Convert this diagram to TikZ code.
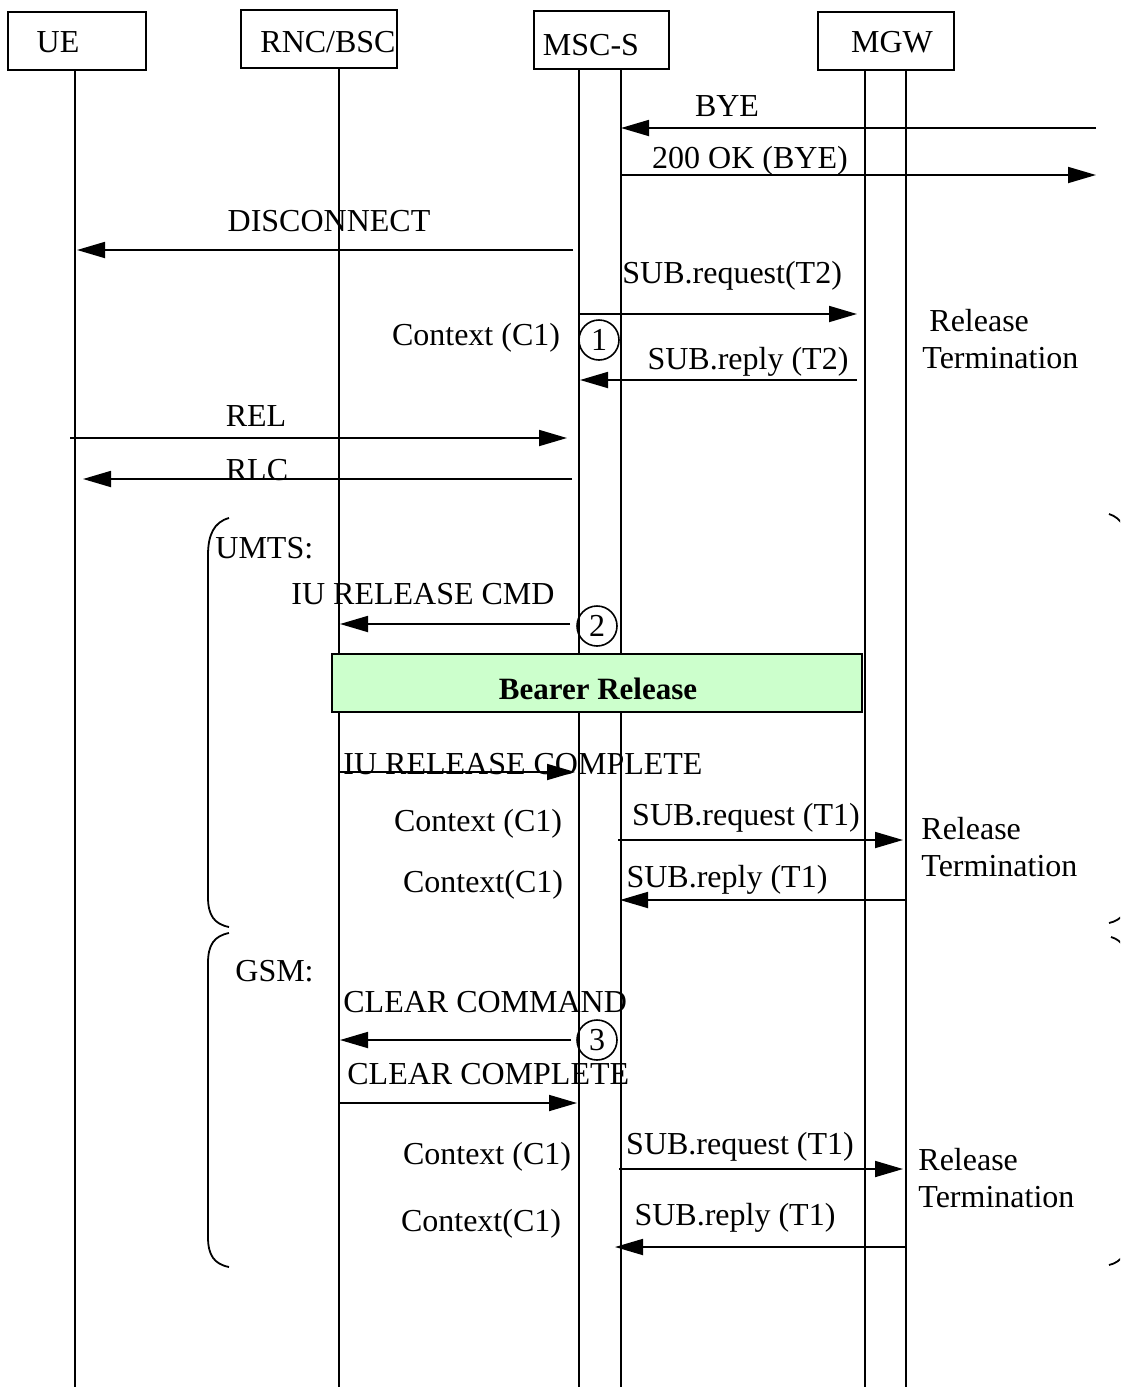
\documentclass[tikz,border=0pt]{standalone}
\usepackage{fontspec}
\setmainfont{Liberation Serif}
\usetikzlibrary{arrows.meta}
\newcommand\mymsg[4]{\coordinate (#1s) at (#2,#4); \coordinate (#1e) at (#3,#4); \draw[msg] (#1s) -- (#1e);}
\begin{document}
\begin{tikzpicture}[x=0.5pt,y=-0.5pt,
  font=\fontsize{16}{19}\selectfont,
  actor/.style={draw, line width=0.8pt, inner sep=0pt, minimum height=29pt},
  life/.style={line width=0.8pt},
  msg/.style={line width=0.9pt, -{Triangle[length=14pt,width=8pt]}},
  lbl/.style={inner sep=0pt, anchor=base},
  lbll/.style={inner sep=0pt, anchor=base west},
  num/.style={draw, circle, line width=0.8pt, minimum size=20pt, inner sep=0pt},
  brace/.style={line width=0.9pt}]
\useasboundingbox (0,0) rectangle (1120,1387);
\clip (0,0) rectangle (1120,1387);
\fill[white] (0,0) rectangle (1120,1387);

% actor boxes
\node[actor, minimum width=69pt] (ue) at (77,41) {};
\node[actor, minimum width=78pt] (rnc) at (319,39) {};
\node[actor, minimum width=67.5pt] (msc) at (601.5,40) {};
\node[actor, minimum width=68pt] (mgw) at (886,41) {};
\node[lbl] (tue) at (58,52) {UE};
\node[lbl] (trnc) at (328,52) {RNC/BSC};
\node[lbl] (tmsc) at (591,55) {MSC-S};
\node[lbl] (tmgw) at (892,52) {MGW};

% lifelines
\coordinate (ueT) at (75,70);   \coordinate (ueB) at (75,1387);
\coordinate (rnT) at (339,68);  \coordinate (rnB) at (339,1387);
\coordinate (m1T) at (579,68);  \coordinate (m1B) at (579,1387);
\coordinate (m2T) at (621,68);  \coordinate (m2B) at (621,1387);
\coordinate (g1T) at (865,70);  \coordinate (g1B) at (865,1387);
\coordinate (g2T) at (906,70);  \coordinate (g2B) at (906,1387);
\foreach \a in {ue,rn,m1,m2,g1,g2} {\draw[life] (\a T) -- (\a B);}

% messages
\mymsg{bye}{1096}{621}{128}
\node[lbl] (tbye) at (727,116) {BYE};
\mymsg{ok}{621}{1096}{175}
\node[lbl] (tok) at (750,168) {200 OK (BYE)};
\mymsg{disc}{573}{77}{250}
\node[lbl] (tdisc) at (329,231) {DISCONNECT};
\mymsg{subq2}{579}{857}{314}
\node[lbll] (tsubq2) at (622,283) {SUB.request(T2)};
\node[lbl] (tctx1) at (476,345) {Context (C1)};
\node[num] (c1) at (599,340) {1};
\mymsg{subr2}{857}{580}{380}
\node[lbl] (tsubr2) at (748,369) {SUB.reply (T2)};
\node[lbll] (trel1) at (929,331) {Release};
\node[lbll] (tterm1) at (922,368) {Termination};

\mymsg{rel}{70}{567}{438}
\node[lbl] (trel) at (256,426) {REL};
\mymsg{rlc}{572}{83}{479}
\node[lbl] (trlc) at (257,480) {RLC};

% UMTS part
\node[lbll] (tumts) at (215,558) {UMTS:};
\mymsg{iucmd}{570}{340}{624}
\node[lbl] (tiucmd) at (423,604) {IU RELEASE CMD};
\node[num] (c2) at (597,626) {2};
\node[draw, line width=0.8pt, fill={rgb,255:red,204;green,255;blue,204}, minimum width=265pt, minimum height=29pt, inner sep=0pt] (bearer) at (597,683) {};
\node[lbl, font=\fontsize{15.5}{18}\selectfont\bfseries] (tbearer) at (598,699) {Bearer Release};
\mymsg{iucomp}{340}{575}{772}
\node[lbll] (tiucomp) at (343,774) {IU RELEASE COMPLETE};
\node[lbl] (tctx2) at (478,831) {Context (C1)};
\mymsg{subq1}{618}{903}{840}
\node[lbl] (tsubq1) at (746,825) {SUB.request (T1)};
\node[lbll] (trel2) at (921,839) {Release};
\node[lbll] (tterm2) at (921,876) {Termination};
\node[lbl] (tctx3) at (483,892) {Context(C1)};
\mymsg{subr1}{906}{620}{900}
\node[lbl] (tsubr1) at (727,887) {SUB.reply (T1)};

% GSM part
\node[lbll] (tgsm) at (235,981) {GSM:};
\node[lbll] (tclcmd) at (343,1012) {CLEAR COMMAND};
\mymsg{clcmd}{571}{340}{1040}
\node[num] (c3) at (597,1040) {3};
\node[lbll] (tclcomp) at (347,1084) {CLEAR COMPLETE};
\mymsg{clcomp}{340}{577}{1103}
\node[lbl] (tctx4) at (487,1164) {Context (C1)};
\mymsg{subq3}{619}{903}{1169}
\node[lbl] (tsubq3) at (740,1154) {SUB.request (T1)};
\node[lbll] (trel3) at (918,1170) {Release};
\node[lbll] (tterm3) at (918,1207) {Termination};
\node[lbl] (tctx5) at (481,1231) {Context(C1)};
\mymsg{subr3}{906}{615}{1247}
\node[lbl] (tsubr3) at (735,1225) {SUB.reply (T1)};

% left brackets
\draw[brace] (229,518) .. controls (214,522) and (208,535) .. (208,555) -- (208,897) .. controls (208,915) and (214,924) .. (229,927);
\draw[brace] (229,933) .. controls (214,936) and (208,945) .. (208,963) -- (208,1237) .. controls (208,1255) and (214,1264) .. (229,1267);
% right brackets (cut by the edge)
\draw[brace] (1109,514) .. controls (1122,518) and (1128,530) .. (1128,550) -- (1128,895) .. controls (1128,912) and (1122,920) .. (1109,923);
\draw[brace] (1111,937) .. controls (1122,940) and (1128,950) .. (1128,965) -- (1128,1235) .. controls (1128,1252) and (1122,1262) .. (1109,1265);
\end{tikzpicture}
\end{document}
